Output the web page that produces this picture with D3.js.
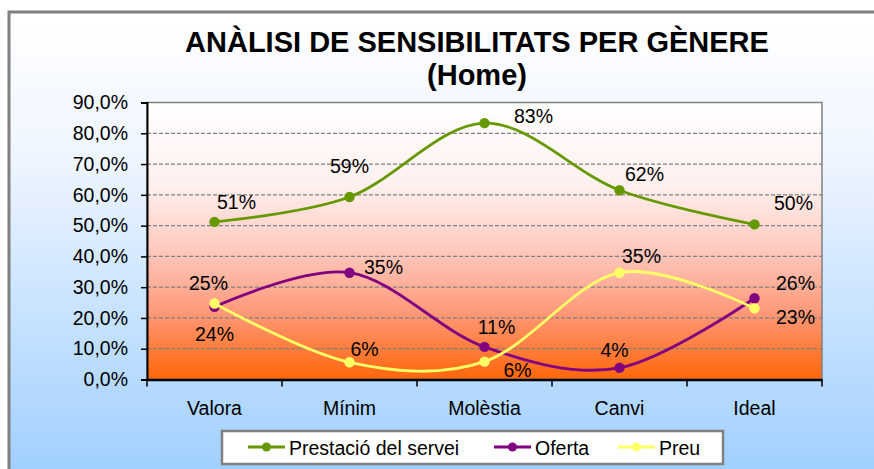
<!DOCTYPE html>
<html>
<head>
<meta charset="utf-8">
<script src="https://cdn.jsdelivr.net/npm/d3@7"></script>
<style>
  body { margin: 0; background: #fff; }
  svg { display: block; font-family: "Liberation Sans", Arial, sans-serif; }
</style>
</head>
<body>
<div id="chart"></div>
<script>
const categories = ["Valora", "Mínim", "Molèstia", "Canvi", "Ideal"];
const prestacio = [0.512, 0.593, 0.833, 0.615, 0.504];
const oferta = [0.236, 0.347, 0.106, 0.038, 0.264];
const preu = [0.247, 0.056, 0.058, 0.347, 0.231];
const yTicks = [0, 0.1, 0.2, 0.3, 0.4, 0.5, 0.6, 0.7, 0.8, 0.9];

const series = [
  { name: "Prestació del servei", values: prestacio, color: "#669900" },
  { name: "Oferta", values: oferta, color: "#800080" },
  { name: "Preu", values: preu, color: "#FFFF66" },
];

// hand placed data labels (dx, dy from the point), like in the sheet
const labelOffsets = [
  [[22, -13], [0, -24], [49, 0], [25, -9], [39, -14]],
  [[0, 34], [34, 1], [12, -13], [-5, -11], [41, -8]],
  [[-6, -13], [15, -6], [33, 15], [22, -10], [41, 16]],
];

const width = 874, height = 469;
const plot = { left: 147, right: 822, top: 102.5, bottom: 379.5 };

const svg = d3.select("#chart").append("svg")
  .attr("width", width)
  .attr("height", height);

const defs = svg.append("defs");
const bgGrad = defs.append("linearGradient")
  .attr("id", "bg-grad").attr("x1", 0).attr("y1", 0).attr("x2", 0).attr("y2", 1);
bgGrad.append("stop").attr("offset", "0%").attr("stop-color", "#ffffff");
bgGrad.append("stop").attr("offset", "30%").attr("stop-color", "#eef5ff");
bgGrad.append("stop").attr("offset", "100%").attr("stop-color", "#99ccff");

const plotGrad = defs.append("linearGradient")
  .attr("id", "plot-grad").attr("x1", 0).attr("y1", 0).attr("x2", 0).attr("y2", 1);
plotGrad.append("stop").attr("offset", "0%").attr("stop-color", "#ffffff");
plotGrad.append("stop").attr("offset", "30%").attr("stop-color", "#fff0ee");
plotGrad.append("stop").attr("offset", "55%").attr("stop-color", "#ffc6ba");
plotGrad.append("stop").attr("offset", "75%").attr("stop-color", "#ff9a7c");
plotGrad.append("stop").attr("offset", "100%").attr("stop-color", "#ff660a");

// chart area (cropped at right and bottom)
svg.append("rect")
  .attr("x", 9).attr("y", 12)
  .attr("width", width + 20).attr("height", height + 20)
  .attr("fill", "url(#bg-grad)")
  .attr("stroke", "#808080")
  .attr("stroke-width", 3);

svg.append("text")
  .attr("x", 477).attr("y", 52)
  .attr("text-anchor", "middle")
  .attr("font-size", 29).attr("font-weight", "bold")
  .text("ANÀLISI DE SENSIBILITATS PER GÈNERE");
svg.append("text")
  .attr("x", 477).attr("y", 85)
  .attr("text-anchor", "middle")
  .attr("font-size", 29).attr("font-weight", "bold")
  .text("(Home)");

const x = d3.scaleBand().domain(categories).range([plot.left, plot.right]);
const y = d3.scaleLinear().domain([0, 0.9]).range([plot.bottom, plot.top]);

const locale = d3.formatLocale({ decimal: ",", thousands: ".", grouping: [3], currency: ["", "€"] });
const fmtAxis = locale.format(".1%");
const fmtLabel = (v) => Math.round(v * 100) + "%";

svg.append("rect")
  .attr("x", plot.left).attr("y", plot.top)
  .attr("width", plot.right - plot.left).attr("height", plot.bottom - plot.top)
  .attr("fill", "url(#plot-grad)")
  .attr("stroke", "#808080")
  .attr("stroke-width", 1.5);

// dashed gridlines
svg.append("g")
  .selectAll("line")
  .data(yTicks.filter((d) => d > 0 && d < 0.9))
  .join("line")
  .attr("x1", plot.left).attr("x2", plot.right)
  .attr("y1", (d) => y(d)).attr("y2", (d) => y(d))
  .attr("stroke", "#808080")
  .attr("stroke-width", 1.2)
  .attr("stroke-dasharray", "4,2");

const yAxis = svg.append("g")
  .attr("transform", `translate(${plot.left},0)`)
  .call(d3.axisLeft(y).tickValues(yTicks).tickFormat(fmtAxis).tickSize(6).tickPadding(13));
yAxis.select(".domain").attr("stroke", "#000").attr("stroke-width", 2);
yAxis.selectAll(".tick line").attr("stroke", "#000").attr("stroke-width", 1.5);
yAxis.selectAll("text")
  .attr("font-size", 19.5).attr("fill", "#000")
  .attr("font-family", "'Liberation Sans', Arial, sans-serif");

const xAxis = svg.append("g")
  .attr("transform", `translate(0,${plot.bottom})`)
  .call(d3.axisBottom(x).tickSize(0).tickPadding(22));
xAxis.select(".domain").attr("stroke", "#000").attr("stroke-width", 2.5);
xAxis.selectAll("text")
  .attr("font-size", 19.5).attr("fill", "#000")
  .attr("font-family", "'Liberation Sans', Arial, sans-serif");
// category boundary ticks
xAxis.selectAll(".cat-tick")
  .data(categories.concat([null]))
  .join("line")
  .attr("class", "cat-tick")
  .attr("x1", (d, i) => plot.left + i * x.step())
  .attr("x2", (d, i) => plot.left + i * x.step())
  .attr("y1", 0).attr("y2", 7)
  .attr("stroke", "#000")
  .attr("stroke-width", 1.5);

const line = d3.line()
  .x((d, i) => x(categories[i]) + x.bandwidth() / 2)
  .y((d) => y(d))
  .curve(d3.curveCatmullRom.alpha(0));

const gSeries = svg.append("g")
  .selectAll("g")
  .data(series)
  .join("g");
gSeries.append("path")
  .attr("d", (d) => line(d.values))
  .attr("fill", "none")
  .attr("stroke", (d) => d.color)
  .attr("stroke-width", 2.8);
gSeries.selectAll("circle")
  .data((d) => d.values.map((v, i) => ({ v, i, color: d.color })))
  .join("circle")
  .attr("cx", (d) => x(categories[d.i]) + x.bandwidth() / 2)
  .attr("cy", (d) => y(d.v))
  .attr("r", 5.2)
  .attr("fill", (d) => d.color);

const gLabels = svg.append("g");
series.forEach((s, si) => {
  gLabels.selectAll(`.lbl-${si}`)
    .data(s.values)
    .join("text")
    .attr("class", `lbl-${si}`)
    .attr("x", (d, i) => x(categories[i]) + x.bandwidth() / 2 + labelOffsets[si][i][0])
    .attr("y", (d, i) => y(d) + labelOffsets[si][i][1])
    .attr("text-anchor", "middle")
    .attr("font-size", 19.5)
    .text(fmtLabel);
});

// legend
const legend = svg.append("g");
legend.append("rect")
  .attr("x", 222).attr("y", 431)
  .attr("width", 501).attr("height", 33)
  .attr("fill", "#fff")
  .attr("stroke", "#808080")
  .attr("stroke-width", 2.5);
const legendX = [248, 494, 618];
const legendItem = legend.selectAll(".item")
  .data(series)
  .join("g")
  .attr("class", "item")
  .attr("transform", (d, i) => `translate(${legendX[i]},447)`);
legendItem.append("line")
  .attr("x1", 0).attr("x2", 37)
  .attr("stroke", (d) => d.color)
  .attr("stroke-width", 2.8);
legendItem.append("circle")
  .attr("cx", 18.5).attr("r", 4.5)
  .attr("fill", (d) => d.color);
legendItem.append("text")
  .attr("x", 41).attr("y", 8)
  .attr("font-size", 19.5)
  .text((d) => d.name);
</script>
</body>
</html>
